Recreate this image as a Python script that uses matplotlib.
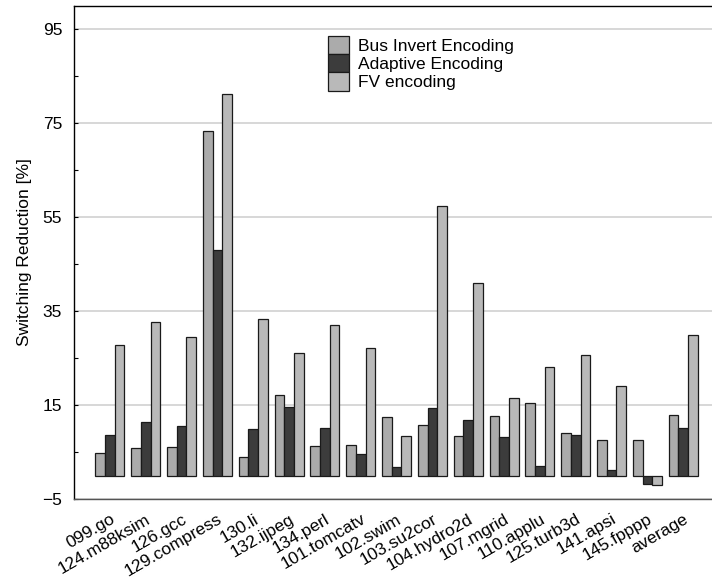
import numpy as np
import matplotlib
matplotlib.use("Agg")
import matplotlib.pyplot as plt

plt.rcParams['font.family'] = ['Liberation Sans', 'DejaVu Sans']

benchmarks = ["099.go", "124.m88ksim", "126.gcc", "129.compress", "130.li",
              "132.ijpeg", "134.perl", "101.tomcatv", "102.swim", "103.su2cor",
              "104.hydro2d", "107.mgrid", "110.applu", "125.turb3d", "141.apsi",
              "145.fpppp", "average"]

bus_invert = [4.9, 5.9, 6.0, 73.3, 3.9, 17.1, 6.2, 6.4, 12.4, 10.8,
              8.4, 12.6, 15.4, 9.0, 7.6, 7.6, 12.9]
adaptive = [8.6, 11.3, 10.6, 48.0, 9.9, 14.6, 10.1, 4.6, 1.8, 14.3,
            11.8, 8.2, 2.0, 8.6, 1.2, -1.8, 10.2]
fv_encoding = [27.7, 32.8, 29.4, 81.3, 33.3, 26.0, 32.0, 27.1, 8.5, 57.3,
               41.0, 16.5, 23.2, 25.6, 19.0, -2.0, 29.9]

series = [("Bus Invert Encoding", bus_invert, "#ababab"),
          ("Adaptive Encoding", adaptive, "#3c3c3c"),
          ("FV encoding", fv_encoding, "#b9b9b9")]

FS = 12.5

fig = plt.figure(figsize=(7.12, 5.79), dpi=100)
ax = fig.add_axes([74 / 712, 1 - 499 / 579, 1 - 74 / 712, (499 - 6) / 579])

x = np.arange(len(benchmarks))
width = 0.27
for k, (name, vals, col) in enumerate(series):
    ax.bar(x + (k - 1) * width, vals, width, color=col, edgecolor="#1a1a1a",
           linewidth=0.9, label=name, zorder=3)

ax.set_xlim(-1.0, 16.8)
ax.set_ylim(-5, 100)
ax.set_yticks(np.arange(-5, 96, 20))
ax.set_yticks(np.arange(5, 96, 20), minor=True)
ax.tick_params(axis='y', which='both', direction='in', length=3, width=0.8,
               labelsize=FS, pad=8.5)
ax.grid(axis='y', which='major', color='#d4d4d4', linewidth=1.3, zorder=0)
ax.set_axisbelow(True)

ax.set_xticks(x)
ax.set_xticklabels(benchmarks, rotation=30, ha='right', rotation_mode='anchor',
                   fontsize=FS)
ax.tick_params(axis='x', length=0, pad=9)

ax.spines['right'].set_visible(False)
ax.spines['top'].set_color('black')
ax.spines['left'].set_color('black')
ax.spines['bottom'].set_color('#555555')
for s in ('top', 'left', 'bottom'):
    ax.spines[s].set_linewidth(1.0)

ax.set_ylabel("Switching Reduction [%]", fontsize=FS, labelpad=7.4)

fs_px = FS * 100 / 72
ax.legend(loc='upper left', bbox_to_anchor=(0.398, 0.940), frameon=False,
          fontsize=FS, handlelength=21 / fs_px, handleheight=21.7 / fs_px,
          labelspacing=0, handletextpad=0.55, borderpad=0, borderaxespad=0)

fig.savefig("out.png", dpi=100)
